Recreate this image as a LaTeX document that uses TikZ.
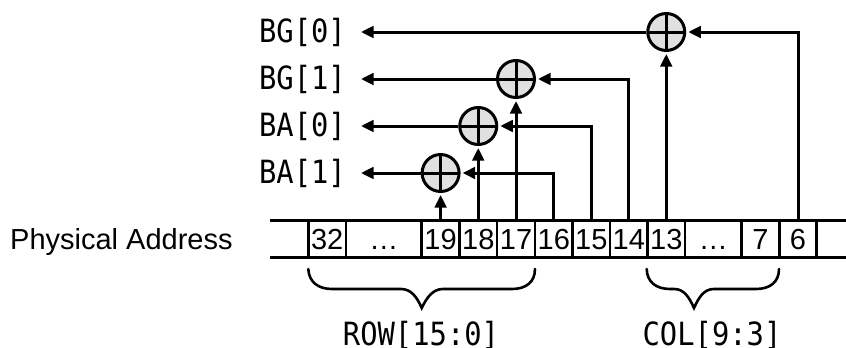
\documentclass[tikz,border=0pt]{standalone}
\usepackage{fontspec}
\setmainfont{Liberation Sans}
\newfontfamily\labfont[FakeStretch=0.9]{DejaVu Sans Mono}
\usetikzlibrary{arrows.meta}
\definecolor{xorfill}{HTML}{E0E0E0}
\tikzset{
  wire/.style={line width=3pt,line join=miter},
  arr/.style={wire,-{Triangle[length=12.5pt,width=11.5pt]},shorten >=2pt},
  bus/.style={line width=3pt},
  bracepath/.style={line width=2.6pt,line cap=round},
  cell/.style={draw,line width=2.7pt,minimum height=37.7pt,inner xsep=0pt,inner ysep=0pt,outer sep=0pt,
    text height=20.8pt,text depth=0pt,font=\fontsize{29}{30}\selectfont},
  xorgate/.style={draw,circle,fill=xorfill,line width=3pt,minimum size=37pt,inner sep=0pt,outer sep=1.5pt,
    path picture={\draw[line width=3pt] (path picture bounding box.north)--(path picture bounding box.south)
      (path picture bounding box.west)--(path picture bounding box.east);}},
  lab/.style={font=\labfont\fontsize{32}{33}\selectfont,inner xsep=13pt,inner ysep=0pt,anchor=east},
  sublab/.style={font=\labfont\fontsize{32}{33}\selectfont,inner sep=0pt,anchor=base},
}
\begin{document}
\begin{tikzpicture}[x=1pt,y=-1pt]
\useasboundingbox (0,0) rectangle (846,348);
% bus
\coordinate (busTL) at (270,220); \coordinate (busTR) at (846,220);
\coordinate (busBL) at (270,257.7); \coordinate (busBR) at (846,257.7);
\draw[bus] (busTL)--(busTR) (busBL)--(busBR);
% cells
\newcommand{\bitcell}[4]{\node[cell,minimum width=#3-#2] (#1) at ({(#2+#3)/2},238.85) {#4};}
\bitcell{c32}{308.3}{346}{32}
\bitcell{cdotsa}{346}{421.7}{…}
\bitcell{c19}{421.7}{459.5}{19}
\bitcell{c18}{459.5}{497}{18}
\bitcell{c17}{497}{535}{17}
\bitcell{c16}{535}{572.5}{16}
\bitcell{c15}{572.5}{610}{15}
\bitcell{c14}{610}{647.5}{14}
\bitcell{c13}{647.5}{685}{13}
\bitcell{cdotsb}{685}{741.7}{…}
\bitcell{c7}{741.7}{779.3}{7}
\bitcell{c6}{779.3}{816.7}{6}
% labels
\node[anchor=base west,inner sep=0pt,font=\fontsize{29}{30}\selectfont] (pa) at (10,249) {Physical Address};
\node[lab] (bg0) at (359,32) {BG[0]};
\node[lab] (bg1) at (359,79) {BG[1]};
\node[lab] (ba0) at (359,126) {BA[0]};
\node[lab] (ba1) at (359,173) {BA[1]};
% wires underneath gates
\coordinate (j16) at (c16.north |- ba1.east);
\coordinate (j15) at (c15.north |- ba0.east);
\coordinate (j14) at (c14.north |- bg1.east);
\coordinate (j6) at (c6.north |- bg0.east);
\node[xorgate] (x3) at (c13.north |- bg0.east) {};
\node[xorgate] (x2) at (c17.north |- bg1.east) {};
\node[xorgate] (x1) at (c18.north |- ba0.east) {};
\node[xorgate] (x0) at (c19.north |- ba1.east) {};
\draw[arr] (x3.west) -- (bg0.east);
\draw[arr] (x2.west) -- (bg1.east);
\draw[arr] (x1.west) -- (ba0.east);
\draw[arr] (x0.west) -- (ba1.east);
\draw[arr] (c6.north) -- (j6) -- (x3.east);
\draw[arr] (c14.north) -- (j14) -- (x2.east);
\draw[arr] (c15.north) -- (j15) -- (x1.east);
\draw[arr] (c16.north) -- (j16) -- (x0.east);
\draw[arr] (c13.north) -- (x3.south);
\draw[arr] (c17.north) -- (x2.south);
\draw[arr] (c18.north) -- (x1.south);
\draw[arr] (c19.north) -- (x0.south);
% braces
\coordinate (ra) at (308.3,269); \coordinate (rb) at (421.7,308); \coordinate (rc) at (535,269);
\coordinate (ca) at (646.7,269); \coordinate (cb) at (694,308); \coordinate (cc) at (779,269);
\draw[bracepath] (ra) .. controls (309,282) and (318,289) .. (332,289) -- (401,289)
  .. controls (411,289) and (417,297) .. (rb)
  .. controls (427,297) and (433,289) .. (443,289) -- (512,289)
  .. controls (526,289) and (535,282) .. (rc);
\draw[bracepath] (ca) .. controls (647,282) and (656,289) .. (670,289) -- (674,289)
  .. controls (684,289) and (689,297) .. (cb)
  .. controls (699,297) and (704,289) .. (714,289) -- (756,289)
  .. controls (770,289) and (779,282) .. (cc);
\node[sublab] (row) at (421,345) {ROW[15:0]};
\node[sublab] (col) at (712,345) {COL[9:3]};
\end{tikzpicture}
\end{document}
